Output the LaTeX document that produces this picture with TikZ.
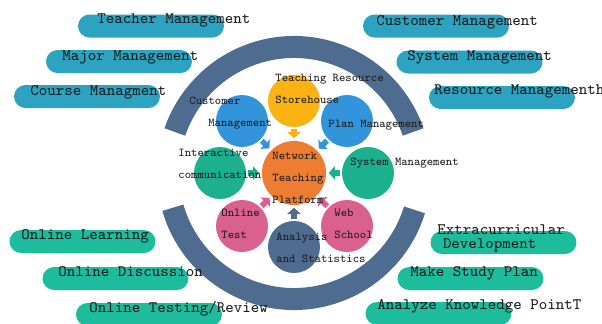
\documentclass[tikz,border=0pt]{standalone}
\usetikzlibrary{calc,shapes,arrows.meta}
\definecolor{Ring}{RGB}{78,108,143}
\definecolor{TopPill}{RGB}{43,163,193}
\definecolor{LowPill}{RGB}{29,188,156}
\definecolor{Gold}{RGB}{251,178,18}
\definecolor{Sky}{RGB}{50,148,218}
\definecolor{Jade}{RGB}{28,176,143}
\definecolor{Rose}{RGB}{218,96,142}
\definecolor{Core}{RGB}{238,125,50}
\definecolor{Ink}{RGB}{30,30,30}

\begin{document}
\begin{tikzpicture}[x=0.5pt,y=-0.5pt]
			\useasboundingbox (0,0) rectangle (602,323);
			\tikzstyle{pill}=[shape=rectangle, rounded corners=5.75pt, minimum width=73pt, minimum height=11.5pt, inner sep=0pt];
			\tikzstyle{ball}=[shape=circle, minimum size=26pt, inner sep=0pt];
			\tikzstyle{big}=[text=Ink, font=\ttfamily\fontsize{8}{7}\selectfont, anchor=base west, inner sep=0pt, align=left];
			\tikzstyle{small}=[text=Ink, font=\ttfamily\fontsize{6}{11}\selectfont, anchor=base west, inner sep=0pt, align=left];
			\tikzstyle{ring}=[draw=Ring, line width=11pt];
			\tikzstyle{push}=[line width=2.8pt, -{Triangle[width=6.5pt,length=3pt]}, shorten <=0.8pt, shorten >=1.2pt];
			\node [pill, fill=TopPill] (pteacher) at (151, 26) {};
			\node [pill, fill=TopPill] (pmajor) at (119, 61.5) {};
			\node [pill, fill=TopPill] (pcourse) at (87, 96.5) {};
			\node [pill, fill=TopPill] (pcustomer) at (436, 26) {};
			\node [pill, fill=TopPill] (psystem) at (469.5, 62) {};
			\node [pill, fill=TopPill] (presource) at (502, 97.5) {};
			\node [pill, fill=LowPill] (plearn) at (82.5, 241.5) {};
			\node [pill, fill=LowPill] (pdiscuss) at (115.5, 278.5) {};
			\node [pill, fill=LowPill] (preview) at (149, 314.5) {};
			\node [pill, fill=LowPill] (pextra) at (503.5, 242.5) {};
			\node [pill, fill=LowPill] (pplan) at (470.5, 278.5) {};
			\node [pill, fill=LowPill] (pknow) at (438.5, 313.5) {};
			\node [shape=circle, minimum size=32pt, inner sep=0pt, fill=Core] (core) at (294, 173) {};
			\draw [ring] ([shift={(19:63pt)}]core) arc[start angle=19, end angle=161, radius=63pt];
			\draw [ring] ([shift={(196:63pt)}]core) arc[start angle=196, end angle=343, radius=63pt];
			\node [ball, fill=Gold] (store) at (294, 101) {};
			\node [ball, fill=Sky] (cust) at (242, 121) {};
			\node [ball, fill=Sky] (plan) at (347, 121) {};
			\node [ball, fill=Jade] (inter) at (220, 173) {};
			\node [ball, fill=Jade] (sys) at (368, 173) {};
			\node [ball, fill=Rose] (test) at (242, 226) {};
			\node [ball, fill=Rose] (web) at (347, 226) {};
			\node [ball, fill=Ring] (stat) at (294, 247) {};
			\draw [push, Gold] (store) -- (core);
			\draw [push, Sky] (cust) -- (core);
			\draw [push, Sky] (plan) -- (core);
			\draw [push, Jade] (inter) -- (core);
			\draw [push, Jade] (sys) -- (core);
			\draw [push, Rose] (test) -- (core);
			\draw [push, Rose] (web) -- (core);
			\draw [push, Ring] (stat) -- (core);
			\node [small] (lstore) at (275, 103) {Teaching Resource\\Storehouse};
			\node [small] (lcust) at (189, 126) {Customer\\\hspace*{1.575em}Management};
			\node [small] (lplan) at (328, 127) {Plan Management};
			\node [small] (linter) at (178, 178) {Interactive\\communication};
			\node [small] (lsys) at (350, 165) {System Management};
			\node [small] (lcore) at (272, 203) {Network\\Teaching\\Platform};
			\node [small] (ltest) at (221, 238) {Online\\Test};
			\node [small] (lweb) at (334, 238) {Web\\School};
			\node [small] (lstat) at (276, 262) {Analysis\\and Statistics};
			\node [big] (tteacher) at (97, 23) {Teacher Management};
			\node [big] (tmajor) at (62, 60) {Major Management};
			\node [big] (tcourse) at (30, 95) {Course Managment};
			\node [big] (tcustomer) at (376, 25) {Customer Management};
			\node [big] (tsystem) at (407, 60) {System Management};
			\node [big] (tresource) at (434, 94) {Resource Managementh};
			\node [big] (tlearn) at (21, 239) {Online Learning};
			\node [big] (tdiscuss) at (58, 276) {Online Discussion};
			\node [big] (treview) at (89, 312) {Online Testing/Review};
			\node [big] (textra) at (437, 248) {Extracurricular\\\hspace*{0.35em}Development};
			\node [big] (tplan) at (410, 276) {Make Study Plan};
			\node [big] (tknow) at (377, 309) {Analyze Knowledge PointT};
		\end{tikzpicture}
\end{document}
